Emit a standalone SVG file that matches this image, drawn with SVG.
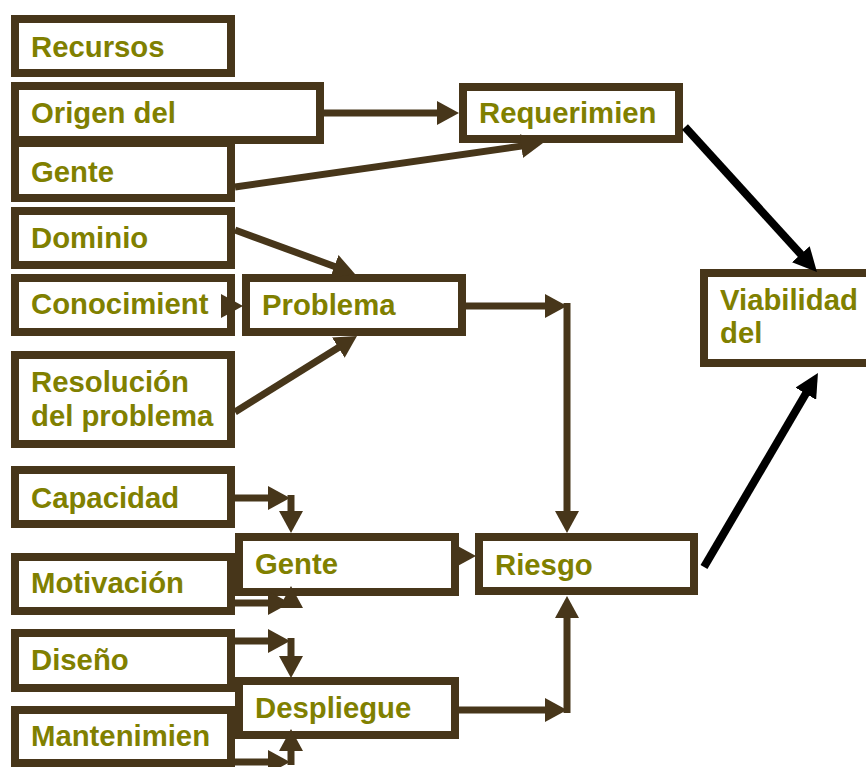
<svg xmlns="http://www.w3.org/2000/svg" width="866" height="767" viewBox="0 0 866 767">
  <style>
    .box { fill: #ffffff; stroke: #47361a; stroke-width: 8; }
    .lbl { font-family: "Liberation Sans", Arial, sans-serif; font-weight: bold; font-size: 29.3px; fill: #808000; }
    .con { fill: none; stroke: #47361a; stroke-width: 7; }
    .blk { fill: none; stroke: #000000; stroke-width: 8; }
  </style>
  <defs>
    <marker id="ah" markerUnits="userSpaceOnUse" markerWidth="22" markerHeight="24" refX="14" refY="12" orient="auto">
      <path d="M0,0 L22,12 L0,24 z" fill="#47361a"/>
    </marker>
    <marker id="ahb" markerUnits="userSpaceOnUse" markerWidth="24" markerHeight="24" refX="15" refY="12" orient="auto">
      <path d="M0,0 L24,12 L0,24 z" fill="#000000"/>
    </marker>
  </defs>

  <rect width="866" height="767" fill="#ffffff"/>

  <g id="recursos">
    <rect class="box" x="15" y="19" width="216" height="54"/>
    <text class="lbl" x="31" y="57">Recursos</text>
  </g>
  <g id="gente-req">
    <rect class="box" x="15" y="143" width="216" height="55"/>
    <text class="lbl" x="31" y="182">Gente</text>
  </g>
  <g id="origen">
    <rect class="box" x="15" y="86" width="305" height="54"/>
    <text class="lbl" x="31" y="123">Origen del</text>
  </g>
  <g id="dominio">
    <rect class="box" x="15" y="211" width="216" height="54"/>
    <text class="lbl" x="31" y="248">Dominio</text>
  </g>
  <g id="conocimiento">
    <rect class="box" x="15" y="278" width="216" height="54"/>
    <text class="lbl" x="31" y="314">Conocimient</text>
  </g>
  <g id="problema">
    <rect class="box" x="246" y="278" width="216" height="54"/>
    <text class="lbl" x="262" y="315">Problema</text>
  </g>
  <g id="resolucion">
    <rect class="box" x="15" y="355" width="216" height="89"/>
    <text class="lbl" x="31" y="392">Resolución</text>
    <text class="lbl" x="31" y="426">del problema</text>
  </g>
  <g id="capacidad">
    <rect class="box" x="15" y="470" width="216" height="54"/>
    <text class="lbl" x="31" y="508">Capacidad</text>
  </g>
  <g id="motivacion">
    <rect class="box" x="15" y="557" width="216" height="54"/>
    <text class="lbl" x="31" y="593">Motivación</text>
  </g>
  <g id="diseno">
    <rect class="box" x="15" y="633" width="216" height="55"/>
    <text class="lbl" x="31" y="670">Diseño</text>
  </g>
  <g id="mantenimiento">
    <rect class="box" x="15" y="710" width="216" height="53"/>
    <text class="lbl" x="31" y="746">Mantenimien</text>
  </g>
  <g id="gente">
    <rect class="box" x="239" y="537" width="216" height="55"/>
    <text class="lbl" x="255" y="574">Gente</text>
  </g>
  <g id="despliegue">
    <rect class="box" x="239" y="681" width="216" height="54"/>
    <text class="lbl" x="255" y="718">Despliegue</text>
  </g>
  <g id="requerimientos">
    <rect class="box" x="463" y="87" width="216" height="52"/>
    <text class="lbl" x="479" y="123">Requerimien</text>
  </g>
  <g id="riesgo">
    <rect class="box" x="479" y="537" width="215" height="54"/>
    <text class="lbl" x="495" y="575">Riesgo</text>
  </g>
  <g id="viabilidad">
    <rect class="box" x="704" y="273" width="220" height="90"/>
    <text class="lbl" x="720" y="310">Viabilidad</text>
    <text class="lbl" x="720" y="343">del</text>
  </g>

  <!-- connectors, drawn over the box borders -->
  <g id="connectors">
    <path class="con" d="M324,113 H451" marker-end="url(#ah)"/>
    <path class="con" d="M235,187 L535.1,144.1" marker-end="url(#ah)"/>
    <path class="con" d="M235,230 L347.5,271.2" marker-end="url(#ah)"/>
    <path class="con" d="M228,306 H235" marker-end="url(#ah)"/>
    <path class="con" d="M235,412 L350.2,340.2" marker-end="url(#ah)"/>
    <path class="con" d="M466,306 H559" marker-end="url(#ah)"/>
    <path class="con" d="M567,303 V525" marker-end="url(#ah)"/>
    <path class="con" d="M235,498 H282" marker-end="url(#ah)"/>
    <path class="con" d="M291,495 V525" marker-end="url(#ah)"/>
    <path class="con" d="M235,603 H282" marker-end="url(#ah)"/>
    <path class="con" d="M291,606 V594" marker-end="url(#ah)"/>
    <path class="con" d="M235,641 H282" marker-end="url(#ah)"/>
    <path class="con" d="M291,638 V670" marker-end="url(#ah)"/>
    <path class="con" d="M235,762 H282" marker-end="url(#ah)"/>
    <path class="con" d="M291,765 V737" marker-end="url(#ah)"/>
    <path class="con" d="M459,556 H468" marker-end="url(#ah)"/>
    <path class="con" d="M459,710 H559" marker-end="url(#ah)"/>
    <path class="con" d="M567,713 V604" marker-end="url(#ah)"/>
    <path class="blk" d="M685,127 L810.9,265.3" marker-end="url(#ahb)"/>
    <path class="blk" d="M704,567 L813.4,380.8" marker-end="url(#ahb)"/>
  </g>
</svg>
